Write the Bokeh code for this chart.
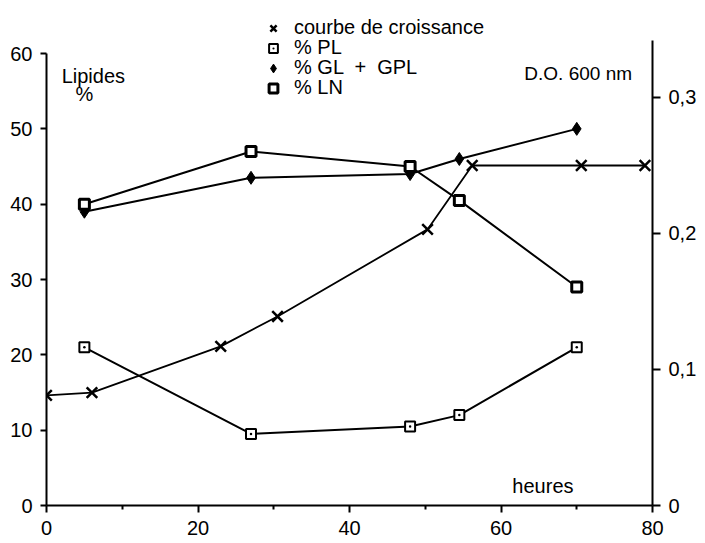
from bokeh.plotting import figure
from bokeh.models import Range1d, LinearAxis, FixedTicker, Legend, LegendItem, Label
from bokeh.embed import file_html
from bokeh.resources import INLINE

# ---- data ----
hours_growth = [0, 6, 23, 30.5, 50.3, 56.2, 70.6, 79]
od_growth = [0.081, 0.083, 0.117, 0.139, 0.203, 0.250, 0.250, 0.250]

hours_lipids = [5, 27, 48, 54.5, 70]
pct_pl = [21, 9.5, 10.5, 12, 21]
pct_gl_gpl = [39, 43.5, 44, 46, 50]
pct_ln = [40, 47, 45, 40.5, 29]

x_ticks = [0, 20, 40, 60, 80]
x_minor_ticks = [10, 30, 50, 70]
left_ticks = [0, 10, 20, 30, 40, 50, 60]
right_ticks = [0, 0.1, 0.2, 0.3]
right_tick_labels = ["0", "0,1", "0,2", "0,3"]

legend_labels = ["courbe de croissance", "% PL", "% GL  +  GPL", "% LN"]

FONT = "Liberation Sans"

p = figure(width=705, height=543, output_backend="svg", toolbar_location=None,
           x_range=Range1d(0, 80), y_range=Range1d(0, 67.04),
           min_border_left=46, min_border_right=53, min_border_top=0, min_border_bottom=38)
p.outline_line_color = None
p.xgrid.visible = False
p.ygrid.visible = False
p.background_fill_color = "white"
p.border_fill_color = "white"

p.extra_y_ranges = {"od": Range1d(0, 0.3713)}

# axes styling
xa = p.xaxis[0]
xa.ticker = FixedTicker(ticks=x_ticks, minor_ticks=x_minor_ticks)
xa.major_tick_out = 7
xa.major_tick_in = 0
xa.minor_tick_out = 4
xa.minor_tick_in = 0
xa.major_label_standoff = 8
xa.major_label_text_font_size = "20px"

ya = p.yaxis[0]
ya.ticker = FixedTicker(ticks=left_ticks)
ya.bounds = (0, 60)
ya.major_tick_out = 6
ya.major_tick_in = 0
ya.minor_tick_line_color = None
ya.major_label_standoff = 8
ya.major_label_text_font_size = "20px"

ra = LinearAxis(y_range_name="od", ticker=FixedTicker(ticks=right_ticks), bounds=(0, 0.342),
                major_label_overrides={t: l for t, l in zip(right_ticks, right_tick_labels)})
ra.major_tick_out = 8
ra.major_tick_in = 0
ra.minor_tick_line_color = None
ra.major_label_standoff = 8
ra.major_label_text_font_size = "20px"
p.add_layout(ra, "right")

for ax in [xa, ya, ra]:
    ax.axis_line_width = 2
    ax.axis_line_color = "black"
    ax.major_tick_line_width = 2
    ax.major_tick_line_color = "black"
    ax.minor_tick_line_width = 2
    ax.major_label_text_font = FONT
    ax.major_label_text_color = "black"

# series
p.line(hours_growth, od_growth, y_range_name="od", line_color="black", line_width=1.8)
r_growth = p.scatter(hours_growth, od_growth, y_range_name="od", marker="x", size=15,
                     line_color="black", line_width=2.5)

p.line(hours_lipids, pct_pl, line_color="black", line_width=2)
r_pl = p.scatter(hours_lipids, pct_pl, marker="square_dot", size=10,
                 fill_color="white", line_color="black", line_width=2)

p.line(hours_lipids, pct_gl_gpl, line_color="black", line_width=2)
r_gl = p.scatter(hours_lipids, pct_gl_gpl, marker="diamond", size=13,
                 fill_color="black", line_color="black", line_width=1)

p.line(hours_lipids, pct_ln, line_color="black", line_width=2)
r_ln = p.scatter(hours_lipids, pct_ln, marker="square", size=10,
                 fill_color="white", line_color="black", line_width=3)

# legend: one row per Legend so the tight row spacing of the original can be kept
legend_rows = [(legend_labels[0], r_growth, 466),
               (legend_labels[1], r_pl, 446),
               (legend_labels[2], r_gl, 426),
               (legend_labels[3], r_ln, 406)]
for lbl, rend, ypos in legend_rows:
    lg = Legend(items=[LegendItem(label=lbl, renderers=[rend])],
                location=(216, ypos), orientation="vertical",
                label_text_font=FONT, label_text_font_size="20px", label_text_color="black",
                glyph_width=22, glyph_height=22, label_height=19, spacing=0,
                padding=0, margin=0, label_standoff=10,
                border_line_alpha=0, background_fill_alpha=0)
    p.add_layout(lg, "center")

# annotations
p.add_layout(Label(x=2.0, y=57.0, text="Lipides", text_font=FONT, text_font_size="20px",
                   text_color="black", text_baseline="alphabetic"))
p.add_layout(Label(x=5.0, y=54.6, text="%", text_font=FONT, text_font_size="20px",
                   text_color="black", text_align="center", text_baseline="alphabetic"))
p.add_layout(Label(x=77.3, y=57.3, text="D.O. 600 nm", text_font=FONT, text_font_size="19px",
                   text_color="black", text_align="right", text_baseline="alphabetic"))
p.add_layout(Label(x=61.5, y=2.6, text="heures", text_font=FONT, text_font_size="20px",
                   text_color="black", text_baseline="alphabetic"))

open("out.html", "w").write(file_html(p, INLINE))
